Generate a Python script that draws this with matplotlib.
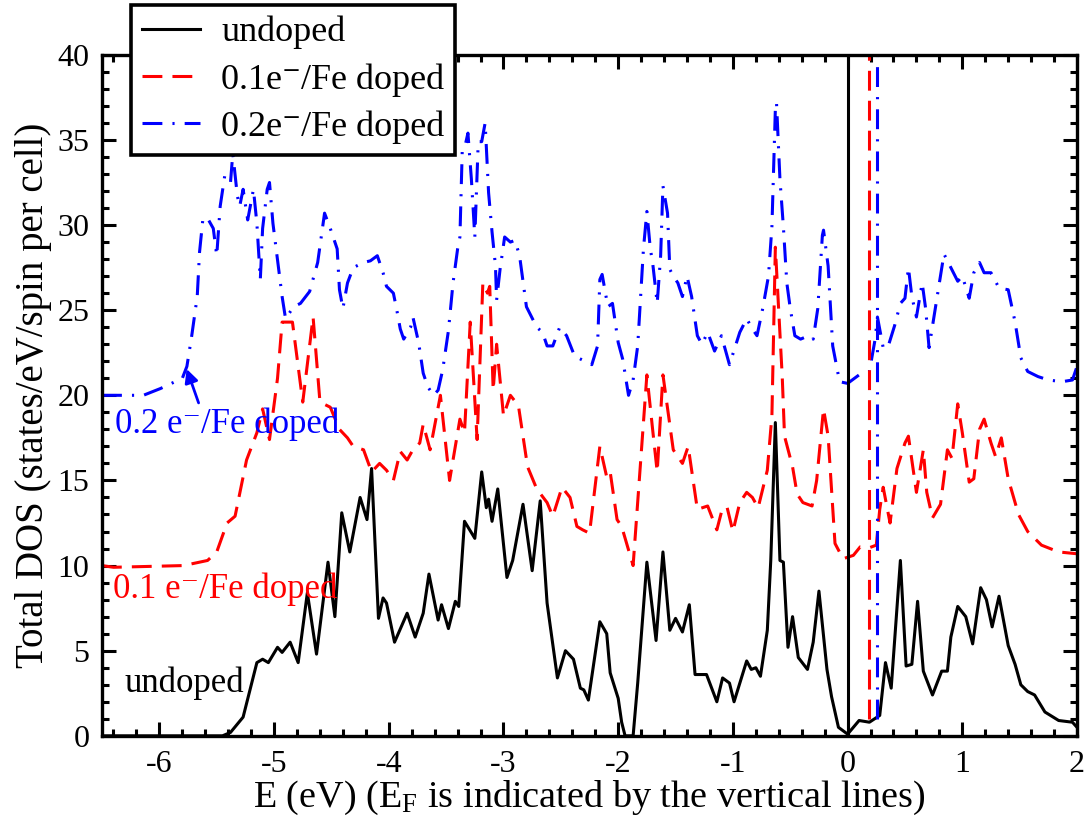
import matplotlib
matplotlib.use("Agg")
import matplotlib.pyplot as plt
from matplotlib.ticker import MultipleLocator

plt.rcParams['font.family'] = ['Liberation Serif', 'DejaVu Serif']
plt.rcParams['mathtext.fontset'] = 'custom'
plt.rcParams['mathtext.rm'] = 'Liberation Serif'
plt.rcParams['mathtext.it'] = 'Liberation Serif:italic'
plt.rcParams['mathtext.bf'] = 'Liberation Serif:bold'

# ---------------- data ----------------
undoped_E = [-6.5, -5.45, -5.38, -5.27, -5.15, -5.10, -5.05, -4.97, -4.93, -4.86,
             -4.79, -4.71, -4.63, -4.53, -4.47, -4.41, -4.34, -4.25, -4.19, -4.15,
             -4.09, -4.05, -4.02, -3.95, -3.84, -3.77, -3.70, -3.65, -3.57, -3.54,
             -3.48, -3.42, -3.39, -3.34, -3.25, -3.19, -3.15, -3.13, -3.10, -3.05,
             -2.97, -2.92, -2.83, -2.75, -2.68, -2.62, -2.53, -2.46, -2.39, -2.33,
             -2.30, -2.26, -2.16, -2.10, -2.07, -2.00, -1.97, -1.94, -1.87, -1.83,
             -1.75, -1.67, -1.61, -1.55, -1.50, -1.44, -1.38, -1.33, -1.23, -1.14,
             -1.09, -1.03, -0.99, -0.88, -0.84, -0.80, -0.76, -0.70, -0.67, -0.63,
             -0.59, -0.56, -0.52, -0.48, -0.43, -0.35, -0.30, -0.25, -0.18, -0.14,
             -0.08, 0.0, 0.10, 0.19, 0.28, 0.33, 0.38, 0.46, 0.51, 0.56,
             0.61, 0.66, 0.74, 0.82, 0.87, 0.90, 0.96, 1.03, 1.09, 1.16,
             1.21, 1.26, 1.32, 1.40, 1.46, 1.51, 1.57, 1.63, 1.72, 1.84,
             1.96, 2.0]
undoped_DOS = [0, 0, 0.2, 1.1, 4.3, 4.5, 4.3, 5.2, 4.9, 5.5,
               4.3, 8.4, 4.8, 10.2, 7.0, 13.1, 10.8, 14.0, 12.7, 15.7,
               6.9, 8.1, 7.8, 5.5, 7.2, 5.8, 7.2, 9.5, 6.8, 7.7,
               6.3, 7.9, 7.6, 12.6, 11.6, 15.5, 13.4, 13.9, 12.6, 14.5,
               9.3, 10.3, 13.6, 9.7, 13.8, 7.8, 3.4, 5.0, 4.5, 2.8,
               2.7, 2.1, 6.7, 6.0, 3.7, 2.2, 0.8, 0.0, 0.0, 3.1,
               10.2, 5.6, 10.8, 6.2, 6.9, 6.1, 7.7, 3.6, 3.6, 2.0,
               3.4, 3.1, 2.0, 4.4, 3.9, 4.0, 3.5, 6.2, 10.3, 18.4,
               10.3, 10.2, 5.2, 7.0, 4.6, 3.9, 5.5, 8.5, 3.9, 2.3,
               0.5, 0.1, 0.9, 0.8, 1.2, 4.3, 2.8, 10.3, 4.1, 4.2,
               7.9, 3.8, 2.4, 3.8, 3.8, 5.8, 7.6, 7.0, 5.4, 8.7,
               8.0, 6.4, 8.2, 5.3, 4.2, 3.0, 2.6, 2.4, 1.4, 0.9,
               0.8, 0.5]

dop01_E = [-6.5, -6.40, -5.79, -5.58, -5.50, -5.41, -5.34, -5.24, -5.15, -5.10,
           -5.04, -4.97, -4.93, -4.84, -4.75, -4.66, -4.60, -4.51, -4.43, -4.36,
           -4.31, -4.22, -4.15, -4.08, -4.02, -3.96, -3.90, -3.84, -3.79, -3.73,
           -3.70, -3.64, -3.55, -3.47, -3.38, -3.34, -3.29, -3.23, -3.18, -3.14,
           -3.12, -3.09, -3.06, -3.00, -2.94, -2.87, -2.79, -2.71, -2.62, -2.57,
           -2.49, -2.42, -2.36, -2.31, -2.25, -2.16, -2.10, -2.07, -2.01, -1.97,
           -1.87, -1.75, -1.70, -1.66, -1.61, -1.52, -1.44, -1.39, -1.31, -1.22,
           -1.14, -1.09, -1.05, -1.00, -0.94, -0.88, -0.83, -0.78, -0.70, -0.66,
           -0.63, -0.57, -0.55, -0.48, -0.44, -0.39, -0.31, -0.27, -0.21, -0.17,
           -0.11, -0.04, 0.05, 0.11, 0.19, 0.25, 0.28, 0.31, 0.37, 0.43,
           0.50, 0.53, 0.60, 0.66, 0.69, 0.74, 0.81, 0.87, 0.91, 0.96,
           1.00, 1.06, 1.10, 1.15, 1.19, 1.25, 1.29, 1.34, 1.40, 1.49,
           1.57, 1.69, 1.84, 1.99, 2.0]
dop01_DOS = [10.0, 9.9, 10.0, 10.3, 10.8, 12.5, 12.9, 16.2, 17.8, 19.2,
             17.4, 21.0, 24.3, 24.3, 19.6, 24.6, 19.6, 19.3, 18.0, 17.5,
             17.0, 16.8, 15.5, 16.0, 15.6, 15.0, 16.7, 16.2, 16.8, 17.2,
             18.3, 16.8, 20.0, 15.0, 18.6, 17.8, 24.3, 17.4, 26.6, 26.0,
             26.4, 20.3, 23.0, 18.8, 20.0, 19.4, 15.8, 14.5, 13.7, 12.9,
             14.6, 14.0, 12.3, 12.1, 11.9, 17.0, 15.2, 15.5, 12.7, 12.3,
             10.0, 21.2, 18.0, 15.5, 21.2, 16.8, 16.0, 17.0, 13.3, 13.5,
             12.1, 13.4, 13.4, 12.0, 13.7, 14.3, 14.0, 13.4, 15.6, 18.8,
             28.7, 21.1, 17.6, 15.8, 14.2, 13.7, 13.5, 15.0, 19.2, 17.6,
             11.3, 10.4, 10.6, 11.1, 11.05, 11.2, 13.3, 14.6, 12.5, 15.7,
             17.2, 17.6, 14.3, 16.8, 14.3, 12.8, 13.6, 16.8, 16.3, 19.5,
             17.8, 14.9, 15.1, 18.0, 18.6, 17.2, 16.4, 17.5, 15.1, 13.0,
             12.0, 11.2, 10.8, 10.7, 10.7]

dop02_E = [-6.5, -6.14, -5.99, -5.80, -5.76, -5.72, -5.67, -5.65, -5.62, -5.58,
           -5.53, -5.50, -5.47, -5.43, -5.38, -5.36, -5.32, -5.30, -5.27, -5.23,
           -5.18, -5.15, -5.12, -5.10, -5.06, -5.04, -5.01, -4.93, -4.90, -4.83,
           -4.77, -4.69, -4.62, -4.56, -4.51, -4.45, -4.43, -4.40, -4.36, -4.31,
           -4.22, -4.16, -4.10, -4.05, -4.02, -3.96, -3.93, -3.90, -3.87, -3.81,
           -3.79, -3.74, -3.70, -3.66, -3.61, -3.57, -3.53, -3.48, -3.44, -3.40,
           -3.38, -3.36, -3.34, -3.31, -3.28, -3.25, -3.22, -3.19, -3.16, -3.13,
           -3.10, -3.07, -3.06, -3.03, -2.99, -2.94, -2.90, -2.86, -2.80, -2.71,
           -2.66, -2.62, -2.57, -2.51, -2.45, -2.38, -2.32, -2.23, -2.18, -2.16,
           -2.14, -2.09, -2.05, -2.00, -1.96, -1.91, -1.87, -1.83, -1.78, -1.75,
           -1.72, -1.70, -1.66, -1.63, -1.61, -1.57, -1.55, -1.52, -1.48, -1.44,
           -1.40, -1.36, -1.31, -1.27, -1.22, -1.16, -1.10, -1.03, -0.94, -0.88,
           -0.83, -0.79, -0.74, -0.69, -0.66, -0.63, -0.62, -0.59, -0.56, -0.53,
           -0.50, -0.46, -0.41, -0.34, -0.30, -0.26, -0.22, -0.21, -0.17, -0.13,
           -0.07, 0.0, 0.10, 0.19, 0.24, 0.26, 0.31, 0.35, 0.41, 0.46,
           0.50, 0.53, 0.56, 0.60, 0.65, 0.68, 0.71, 0.76, 0.81, 0.84,
           0.90, 0.96, 1.00, 1.06, 1.10, 1.15, 1.19, 1.25, 1.32, 1.40,
           1.46, 1.51, 1.57, 1.66, 1.75, 1.87, 1.96, 2.0]
dop02_DOS = [20.0, 20.0, 20.4, 21.0, 21.7, 23.4, 25.8, 28.4, 30.4, 30.4,
             29.8, 28.2, 31.1, 32.9, 32.5, 34.2, 31.7, 31.1, 32.1, 30.3,
             32.1, 30.1, 26.8, 29.8, 32.1, 32.5, 30.1, 25.8, 24.5, 25.2,
             25.4, 26.1, 27.8, 30.7, 29.8, 28.6, 26.2, 25.1, 26.6, 27.5,
             27.8, 27.9, 28.2, 27.2, 26.4, 26.0, 25.0, 23.9, 23.3, 24.0,
             24.6, 23.1, 21.3, 20.5, 20.0, 20.3, 21.5, 23.8, 26.6, 28.6,
             29.3, 34.3, 34.5, 35.4, 32.7, 29.3, 34.9, 34.9, 36.0, 31.9,
             29.6, 27.6, 25.6, 27.4, 29.3, 29.0, 29.1, 28.2, 25.2, 24.0,
             23.7, 22.9, 22.9, 24.0, 23.5, 22.3, 22.1, 21.8, 22.9, 26.8,
             27.1, 25.2, 25.4, 23.1, 22.1, 20.0, 20.9, 22.9, 28.6, 30.8,
             28.6, 27.8, 25.4, 28.2, 32.3, 30.7, 27.4, 27.0, 26.6, 25.8,
             27.0, 25.8, 23.5, 23.0, 23.7, 22.6, 23.5, 21.8, 23.7, 24.5,
             23.9, 23.5, 25.1, 27.0, 29.9, 36.8, 37.2, 32.7, 29.9, 26.6,
             25.1, 23.5, 23.3, 23.5, 23.3, 25.1, 29.4, 29.7, 27.6, 22.9,
             20.8, 20.7, 21.2, 21.4, 23.3, 24.6, 22.8, 22.8, 24.1, 25.4,
             25.7, 27.5, 25.8, 24.6, 26.6, 25.1, 22.8, 24.9, 27.0, 28.3,
             27.5, 26.7, 27.0, 25.7, 27.2, 27.8, 27.2, 27.2, 26.3, 26.2,
             24.3, 22.2, 21.4, 21.1, 20.9, 20.8, 20.9, 21.7]

fermi_levels = [0.0, 0.19, 0.255]
fermi_bottoms = [0.0, 1.0, 1.0]

legend_labels = ['undoped', '0.1e\u207b/Fe doped', '0.2e\u207b/Fe doped']
curve_labels = ['undoped', '0.1 e\u207b/Fe doped', '0.2 e\u207b/Fe doped']
x_ticks = [-6, -5, -4, -3, -2, -1, 0, 1, 2]
x_tick_labels = ['-6', '-5', '-4', '-3', '-2', '-1', '0', '1', '2']
y_ticks = [0, 5, 10, 15, 20, 25, 30, 35, 40]
y_tick_labels = ['0', '5', '10', '15', '20', '25', '30', '35', '40']

# ---------------- plot ----------------
fig = plt.figure(figsize=(10.9, 8.24), dpi=100)
ax = fig.add_axes([0.0936, 0.107, 0.8945, 0.8265])

lw = 2.2
dash_r = (6.5, 3.3)
dash_b = (6.5, 3.3, 0.7, 3.3)
ax.plot(undoped_E, undoped_DOS, color='black', lw=lw, label=legend_labels[0])
ax.plot(dop01_E, dop01_DOS, color='red', lw=lw, dashes=dash_r, label=legend_labels[1])
ax.plot(dop02_E, dop02_DOS, color='blue', lw=lw, dashes=dash_b, label=legend_labels[2])

ax.plot([fermi_levels[0]] * 2, [fermi_bottoms[0], 40], color='black', lw=lw)
ax.plot([fermi_levels[1]] * 2, [fermi_bottoms[1], 40], color='red', lw=lw, dashes=dash_r)
ax.plot([fermi_levels[2]] * 2, [fermi_bottoms[2], 40], color='blue', lw=lw, dashes=dash_b)

ax.set_xlim(-6.5, 2)
ax.set_ylim(0, 40)
ax.set_xticks(x_ticks)
ax.set_xticklabels(x_tick_labels)
ax.set_yticks(y_ticks)
ax.set_yticklabels(y_tick_labels)
ax.xaxis.set_minor_locator(MultipleLocator(0.2))
ax.yaxis.set_minor_locator(MultipleLocator(1))
ax.tick_params(which='both', direction='in', top=True, right=True, width=2.2)
ax.tick_params(which='major', length=10, labelsize=23)
ax.tick_params(axis='x', which='major', pad=10)
ax.tick_params(axis='y', which='major', pad=9)
ax.tick_params(which='minor', length=5)
for s in ax.spines.values():
    s.set_linewidth(2.4)

ax.set_xlabel('E (eV) (E$_\\mathrm{F}$ is indicated by the vertical lines)', fontsize=27.5, labelpad=0)
ax.set_ylabel('Total DOS (states/eV/spin per cell)', fontsize=28, labelpad=4)

fs_ann = 25
ax.text(-6.30, 3.1, curve_labels[0], color='black', fontsize=fs_ann, va='center', ha='left')
ax.text(-6.40, 8.6, curve_labels[1], color='red', fontsize=fs_ann, va='center', ha='left')
ax.text(-6.39, 18.3, curve_labels[2], color='blue', fontsize=fs_ann, va='center', ha='left')
ax.annotate('', xy=(-5.77, 21.7), xytext=(-5.65, 19.4),
            arrowprops=dict(arrowstyle='-|>', color='blue', lw=2, mutation_scale=20))

leg = ax.legend(loc='upper left', bbox_to_anchor=(131 / 1090, 1 - 5 / 824),
                bbox_transform=fig.transFigure, frameon=True, fancybox=False,
                edgecolor='black', framealpha=1, fontsize=26, handlelength=1.6,
                borderaxespad=0, labelspacing=0.38, borderpad=0.3, handletextpad=0.6)
leg.get_frame().set_linewidth(2.6)

fig.savefig('out.png', dpi=100)
